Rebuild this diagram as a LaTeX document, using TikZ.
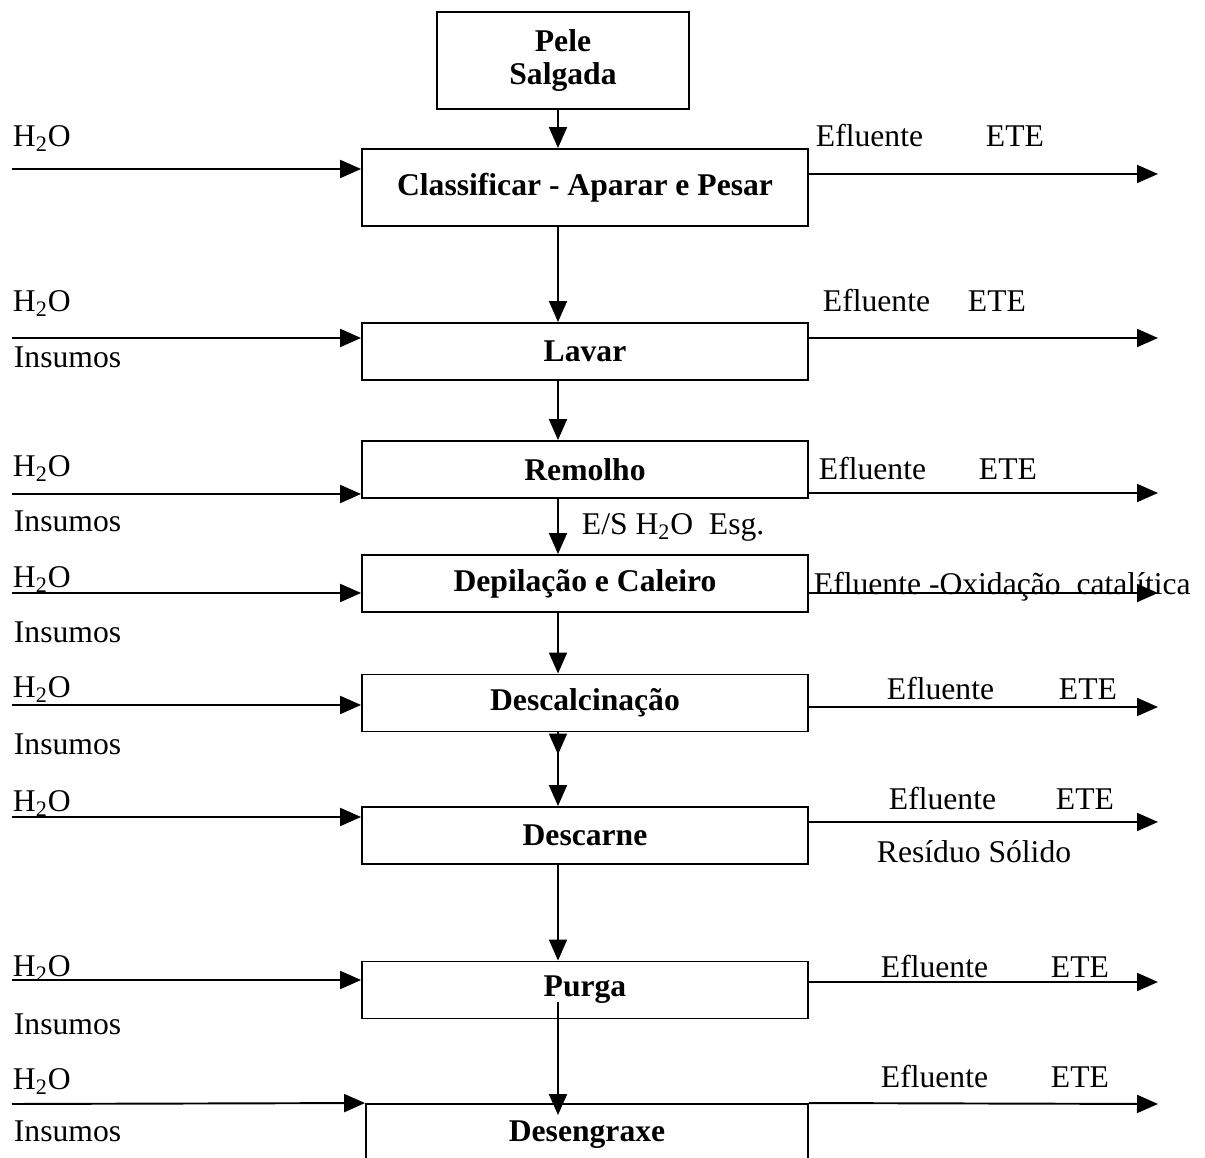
\documentclass[tikz,border=0pt]{standalone}
\usepackage{fontspec}
\setmainfont{Liberation Serif}
\usetikzlibrary{arrows.meta,calc,decorations.markings}

\begin{document}
\begin{tikzpicture}[x=0.02cm, y=-0.02cm, line width=1.1pt, >={Triangle[length=0.42cm, width=0.36cm]},
        every node/.style={font=\fontsize{18}{21}\selectfont},
        etapa/.style={draw, minimum width=8.92cm, minimum height=1.14cm, inner sep=0pt, font=\fontsize{18}{21}\selectfont\bfseries},
        rotulo/.style={anchor=base west, inner sep=0pt}]
    \path[use as bounding box, clip] (0,0) rectangle (1205,1158);
    \coordinate (col) at (558,0);

    \node[etapa, minimum width=5.04cm, minimum height=1.94cm, align=center, font=\fontsize{18}{18.5}\selectfont\bfseries] (pele) at (563,60.5) {Pele\\Salgada};
    \node[etapa, minimum height=1.54cm] (classif) at (585,187.5) {Classificar - Aparar e Pesar};
    \node[etapa] (lavar) at (585,351.5) {Lavar};
    \node[etapa] (remolho) at (585,469.5) {Remolho};
    \node[etapa] (depil) at (585,583.5) {Depilação e Caleiro};
    \node[etapa] (descal) at (585,703) {Descalcinação};
    \node[etapa] (descarne) at (585,835.5) {Descarne};
    \node[etapa] (purga) at (585,990) {Purga};
    \node[etapa, minimum width=8.84cm, minimum height=1.24cm] (desen) at (587,1135) {Desengraxe};

    \draw[->] (pele.south -| col) -- (classif.north -| col);
    \draw[->] (classif.south -| col) -- (lavar.north -| col);
    \draw[->] (lavar.south -| col) -- (remolho.north -| col);
    \draw[->] (remolho.south -| col) -- node[rotulo, pos=0.65, xshift=0.46cm] {E/S H\textsubscript{2}O\ \ Esg.} (depil.north -| col);
    \draw[->] (depil.south -| col) -- (descal.north -| col);
    \draw[->, postaction={decorate}, decoration={markings, mark=at position 0.3 with {\arrow{>}}}] (descal.south -| col) -- (descarne.north -| col);
    \draw[->] (descarne.south -| col) -- (purga.north -| col);
    \draw[->] ($(purga.center -| col)+(0,12)$) -- ($(desen.north -| col)+(0,12)$);

    \coordinate (e1) at (12,169);  \coordinate (s1) at (1158,174);
    \coordinate (e2) at (12,338);  \coordinate (s2) at (1158,338);
    \coordinate (e3) at (12,494);  \coordinate (s3) at (1158,493);
    \coordinate (e4) at (12,593);  \coordinate (s4) at (1158,593);
    \coordinate (e5) at (12,705);  \coordinate (s5) at (1158,707);
    \coordinate (e6) at (12,817);  \coordinate (s6) at (1158,822);
    \coordinate (e7) at (12,980);  \coordinate (s7) at (1158,982);
    \coordinate (e8) at (12,1104); \coordinate (s8) at (1158,1104);

    \draw[->] (e1) -- (classif.west |- e1);
    \draw[->] (classif.east |- s1) -- (s1);
    \draw[->] (e2) -- (lavar.west |- e2);
    \draw[->] (lavar.east |- s2) -- (s2);
    \draw[->] (e3) -- (remolho.west |- e3);
    \draw[->] (remolho.east |- s3) -- (s3);
    \draw[->] (e4) -- (depil.west |- e4);
    \draw[->] (depil.east |- s4) -- (s4);
    \draw[->] (e5) -- (descal.west |- e5);
    \draw[->] (descal.east |- s5) -- (s5);
    \draw[->] (e6) -- (descarne.west |- e6);
    \draw[->] (descarne.east |- s6) -- (s6);
    \draw[->] (e7) -- (purga.west |- e7);
    \draw[->] (purga.east |- s7) -- (s7);
    \draw[->] (e8) -- (desen.north west);
    \draw[->] (desen.north east) -- (s8);

    \node[rotulo] (agua1) at (12,147) {H\textsubscript{2}O};
    \node[rotulo] (agua2) at (12,312) {H\textsubscript{2}O};
    \node[rotulo] (ins2) at (13,368) {Insumos};
    \node[rotulo] (agua3) at (12,477) {H\textsubscript{2}O};
    \node[rotulo] (ins3) at (13,532) {Insumos};
    \node[rotulo] (agua4) at (12,588) {H\textsubscript{2}O};
    \node[rotulo] (ins4) at (13,643) {Insumos};
    \node[rotulo] (agua5) at (12,698) {H\textsubscript{2}O};
    \node[rotulo] (ins5) at (13,755) {Insumos};
    \node[rotulo] (agua6) at (12,812) {H\textsubscript{2}O};
    \node[rotulo] (agua7) at (12,977) {H\textsubscript{2}O};
    \node[rotulo] (ins7) at (13,1035) {Insumos};
    \node[rotulo] (agua8) at (12,1090) {H\textsubscript{2}O};
    \node[rotulo] (ins8) at (13,1142) {Insumos};

    \node[rotulo] (efl1) at (815,147) {Efluente};
    \node[rotulo] (ete1) at (985,147) {ETE};
    \node[rotulo] (efl2) at (822,312) {Efluente};
    \node[rotulo] (ete2) at (967,312) {ETE};
    \node[rotulo] (efl3) at (818,480) {Efluente};
    \node[rotulo] (ete3) at (978,480) {ETE};
    \node[rotulo] (efl4) at (813,595) {Efluente -Oxidação\ \ catalítica};
    \node[rotulo] (efl5) at (886,700) {Efluente};
    \node[rotulo] (ete5) at (1058,700) {ETE};
    \node[rotulo] (efl6) at (888,810) {Efluente};
    \node[rotulo] (ete6) at (1055,810) {ETE};
    \node[rotulo] (res6) at (876,863) {Resíduo Sólido};
    \node[rotulo] (efl7) at (880,978) {Efluente};
    \node[rotulo] (ete7) at (1050,978) {ETE};
    \node[rotulo] (efl8) at (880,1088) {Efluente};
    \node[rotulo] (ete8) at (1050,1088) {ETE};
\end{tikzpicture}
\end{document}
